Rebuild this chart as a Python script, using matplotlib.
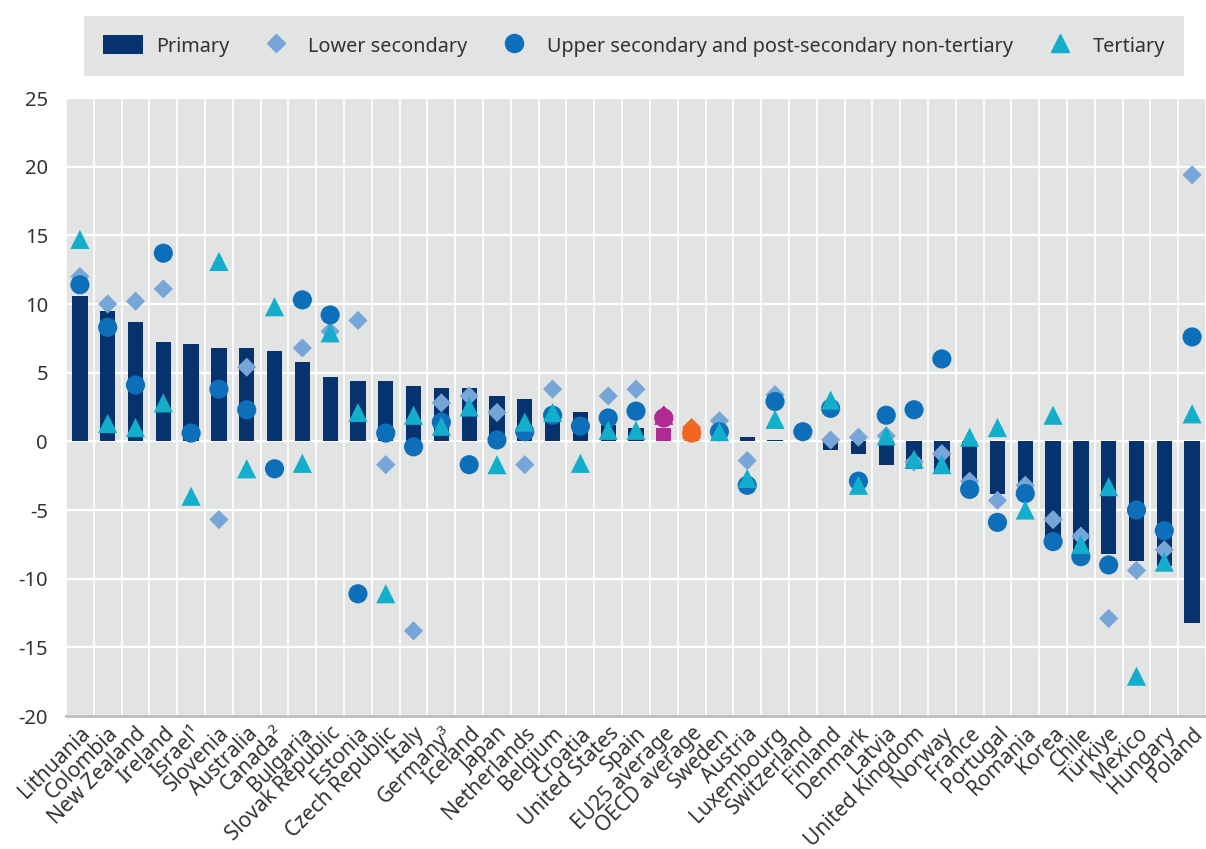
import numpy as np
import matplotlib
matplotlib.use("Agg")
import matplotlib.pyplot as plt
from matplotlib.lines import Line2D
from matplotlib.patches import Patch

nan = np.nan

countries = ["Lithuania", "Colombia", "New Zealand", "Ireland", "Israel¹", "Slovenia",
             "Australia", "Canada²", "Bulgaria", "Slovak Republic", "Estonia",
             "Czech Republic", "Italy", "Germany³", "Iceland", "Japan", "Netherlands",
             "Belgium", "Croatia", "United States", "Spain", "EU25 average",
             "OECD average", "Sweden", "Austria", "Luxembourg", "Switzerland", "Finland",
             "Denmark", "Latvia", "United Kingdom", "Norway", "France", "Portugal",
             "Romania", "Korea", "Chile", "Türkiye", "Mexico", "Hungary", "Poland"]

primary = [10.6, 9.5, 8.7, 7.2, 7.1, 6.8, 6.8, 6.6, 5.8, 4.7, 4.4, 4.4, 4.0, 3.9, 3.9,
           3.3, 3.1, 2.3, 2.1, 1.2, 1.0, 1.0, 0.8, 0.2, 0.3, 0.1, 0.0, -0.6, -0.9, -1.7,
           -2.0, -2.3, -3.3, -3.8, -4.0, -6.9, -8.0, -8.2, -8.7, -9.1, -13.2]

lower_secondary = [12.0, 10.0, 10.2, 11.1, nan, -5.7, 5.4, nan, 6.8, 8.0, 8.8, -1.7, -13.8,
                   2.8, 3.3, 2.1, -1.7, 3.8, nan, 3.3, 3.8, 1.9, 1.0, 1.5, -1.4, 3.4, nan,
                   0.1, 0.3, 0.4, -1.5, -0.9, -2.9, -4.3, -3.2, -5.7, -6.9, -12.9, -9.4,
                   -7.9, 19.4]

upper_secondary = [11.4, 8.3, 4.1, 13.7, 0.6, 3.8, 2.3, -2.0, 10.3, 9.2, -11.1, 0.6, -0.4,
                   1.4, -1.7, 0.1, 0.7, 1.9, 1.1, 1.7, 2.2, 1.7, 0.6, 0.7, -3.2, 2.9, 0.7,
                   2.4, -2.9, 1.9, 2.3, 6.0, -3.5, -5.9, -3.8, -7.3, -8.4, -9.0, -5.0,
                   -6.5, 7.6]

tertiary = [14.7, 1.3, 1.0, 2.8, -4.0, 13.1, -2.0, 9.8, -1.6, 7.9, 2.1, -11.1, 1.9, 1.1,
            2.5, -1.7, 1.4, 2.1, -1.6, 0.8, 0.8, 1.9, 0.9, 0.7, -2.7, 1.6, nan, 3.0, -3.2,
            0.4, -1.3, -1.7, 0.3, 1.0, -5.0, 1.9, -7.5, -3.3, -17.1, -8.8, 2.0]

yticks = [-20, -15, -10, -5, 0, 5, 10, 15, 20, 25]

# colours
navy = "#06336e"
c_lower = "#76a5d8"
c_upper = "#0d6fba"
c_tert = "#12aecb"
avg_colors = {"EU25 average": "#b12a8f", "OECD average": "#f26522"}

plt.rcParams['font.family'] = ['Noto Sans', 'DejaVu Sans']

fig = plt.figure(figsize=(12.06, 8.49), dpi=100)
ax = fig.add_axes([66 / 1206, 1 - 716 / 849, 1 - 66 / 1206, (716 - 98) / 849])
ax.set_facecolor("#e2e3e3")

x = np.arange(len(countries))
bar_cols = [avg_colors.get(c, navy) for c in countries]
ax.bar(x, primary, width=0.55, color=bar_cols, zorder=2)

def pt_colors(base):
    return [avg_colors.get(c, base) for c in countries]

ax.scatter(x, lower_secondary, marker="D", s=95, c=pt_colors(c_lower), linewidths=0, zorder=3)
ax.scatter(x, upper_secondary, marker="o", s=190, c=pt_colors(c_upper), linewidths=0, zorder=4)
ax.scatter(x, tertiary, marker="^", s=190, c=pt_colors(c_tert), linewidths=0, zorder=5)

ax.set_ylim(-20, 25)
ax.set_xlim(-0.5, 40.38)
ax.set_yticks(yticks)
ax.set_yticklabels([str(t) for t in yticks], fontsize=14.5, color="#333333")
ax.set_xticks(x)
ax.set_xticklabels(countries, rotation=45, ha="right", rotation_mode="anchor",
                   fontsize=15, color="#333333")
ax.set_xticks(np.arange(-0.5, len(countries), 1), minor=True)
ax.tick_params(axis="both", which="both", length=0)
ax.tick_params(axis="y", pad=13)
ax.tick_params(axis="x", pad=5)

ax.grid(axis="y", which="major", color="white", linewidth=1.6, zorder=0)
ax.grid(axis="x", which="minor", color="white", linewidth=1.2, zorder=0)
ax.set_axisbelow(True)
for s in ["top", "right", "left"]:
    ax.spines[s].set_visible(False)
ax.spines["bottom"].set_color("#bdbdbd")
ax.spines["bottom"].set_linewidth(2)

handles = [
    Patch(facecolor=navy, edgecolor="none"),
    Line2D([], [], marker="D", linestyle="none", markersize=9.5, color=c_lower),
    Line2D([], [], marker="o", linestyle="none", markersize=13, color=c_upper),
    Line2D([], [], marker="^", linestyle="none", markersize=13, color=c_tert),
]
labels = ["Primary", "Lower secondary", "Upper secondary and post-secondary non-tertiary", "Tertiary"]
leg = fig.legend(handles, labels, loc="center", bbox_to_anchor=(634 / 1206, 1 - 46 / 849),
                 ncol=4, fontsize=14.3, frameon=True, fancybox=False, facecolor="#e2e3e3",
                 edgecolor="none", framealpha=1, handlelength=2.0, handleheight=1.1,
                 columnspacing=1.35, borderpad=0.95, handletextpad=0.65, borderaxespad=0)
for t in leg.get_texts():
    t.set_color("#333333")

fig.savefig("out.png", dpi=100)
